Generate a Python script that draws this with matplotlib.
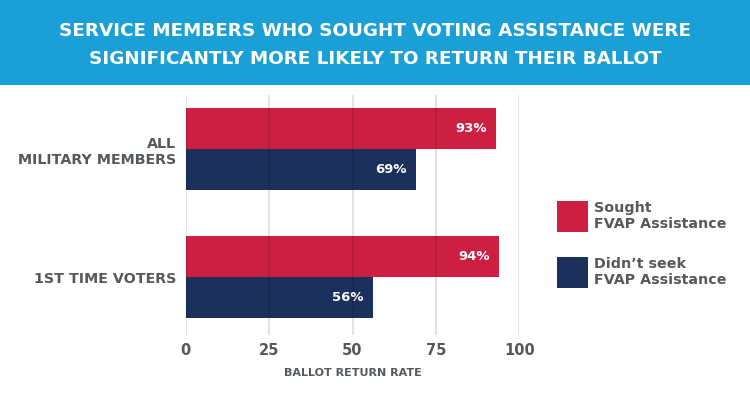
import matplotlib
matplotlib.use("Agg")
import matplotlib.pyplot as plt
from matplotlib.patches import Rectangle
import numpy as np

title_lines = ["SERVICE MEMBERS WHO SOUGHT VOTING ASSISTANCE WERE",
               "SIGNIFICANTLY MORE LIKELY TO RETURN THEIR BALLOT"]
categories = ["ALL\nMILITARY MEMBERS", "1ST TIME VOTERS"]
series_names = ["Sought\nFVAP Assistance", "Didn\u2019t seek\nFVAP Assistance"]
sought = [93, 94]
not_sought = [69, 56]
x_ticks = [0, 25, 50, 75, 100]
x_label = "BALLOT RETURN RATE"

RED = "#cc1f42"
NAVY = "#1b305b"
BLUE = "#1a9fd6"
GRAY = "#55585c"
FONT = "DejaVu Sans"

W, H = 750, 404
fig = plt.figure(figsize=(W / 100, H / 100), dpi=100)
fig.patch.set_facecolor("white")


def fx(px):
    return px / W


def fy(py):
    return 1 - py / H


# banner
fig.add_artist(Rectangle((0, fy(85)), 1, 85 / H, transform=fig.transFigure,
                         facecolor=BLUE, edgecolor="none", zorder=0))
fig.text(0.5, fy(30.7), title_lines[0], ha="center", va="center", color="white",
         fontsize=13.25, fontweight="bold", family=FONT)
fig.text(0.5, fy(58.7), title_lines[1], ha="center", va="center", color="white",
         fontsize=13.25, fontweight="bold", family=FONT)

ax_left, ax_right = 185.7, 519.3
ax_top, ax_bot = 95, 335
ax = fig.add_axes([fx(ax_left), fy(ax_bot), (ax_right - ax_left) / W, (ax_bot - ax_top) / H])

y = np.arange(len(categories))
h = 0.32
b1 = ax.barh(y - h / 2, sought, height=h, color=RED, zorder=1)
b2 = ax.barh(y + h / 2, not_sought, height=h, color=NAVY, zorder=1)
for bars, vals in ((b1, sought), (b2, not_sought)):
    for bar, v in zip(bars, vals):
        ax.annotate(f"{v}%", (v, bar.get_y() + bar.get_height() / 2), xytext=(-6.5, 0),
                    textcoords="offset points", ha="right", va="center", color="white",
                    fontsize=9.5, fontweight="bold", family=FONT, zorder=3)

ax.set_xlim(0, 100)
ax.set_ylim(1.453, -0.422)
ax.set_xticks(x_ticks)
ax.set_xticklabels([str(t) for t in x_ticks], fontweight="bold", family=FONT)
ax.set_yticks(y)
ax.set_yticklabels(categories, linespacing=1.25, fontweight="bold", family=FONT)
ax.tick_params(length=0)
ax.tick_params(axis="x", pad=6, labelsize=10.5, labelcolor=GRAY)
ax.tick_params(axis="y", pad=7, labelsize=10.3, labelcolor=GRAY)
ax.grid(axis="x", color="black", alpha=0.14, linewidth=1.1, zorder=2)
ax.set_axisbelow(False)
for s in ax.spines.values():
    s.set_visible(False)
ax.set_xlabel(x_label, fontsize=8, fontweight="bold", color=GRAY, family=FONT, labelpad=7)

# legend
colors = [RED, NAVY]
for i, (name, col) in enumerate(zip(series_names, colors)):
    top = 200.7 + i * 56.3
    fig.add_artist(Rectangle((fx(557), fy(top + 31)), 31 / W, 31 / H, transform=fig.transFigure,
                             facecolor=col, edgecolor="none"))
    fig.text(fx(594), fy(top + 15), name, ha="left", va="center", color=GRAY,
             fontsize=10.3, fontweight="bold", family=FONT, linespacing=1.15)

fig.savefig("out.png", dpi=100, facecolor="white")
